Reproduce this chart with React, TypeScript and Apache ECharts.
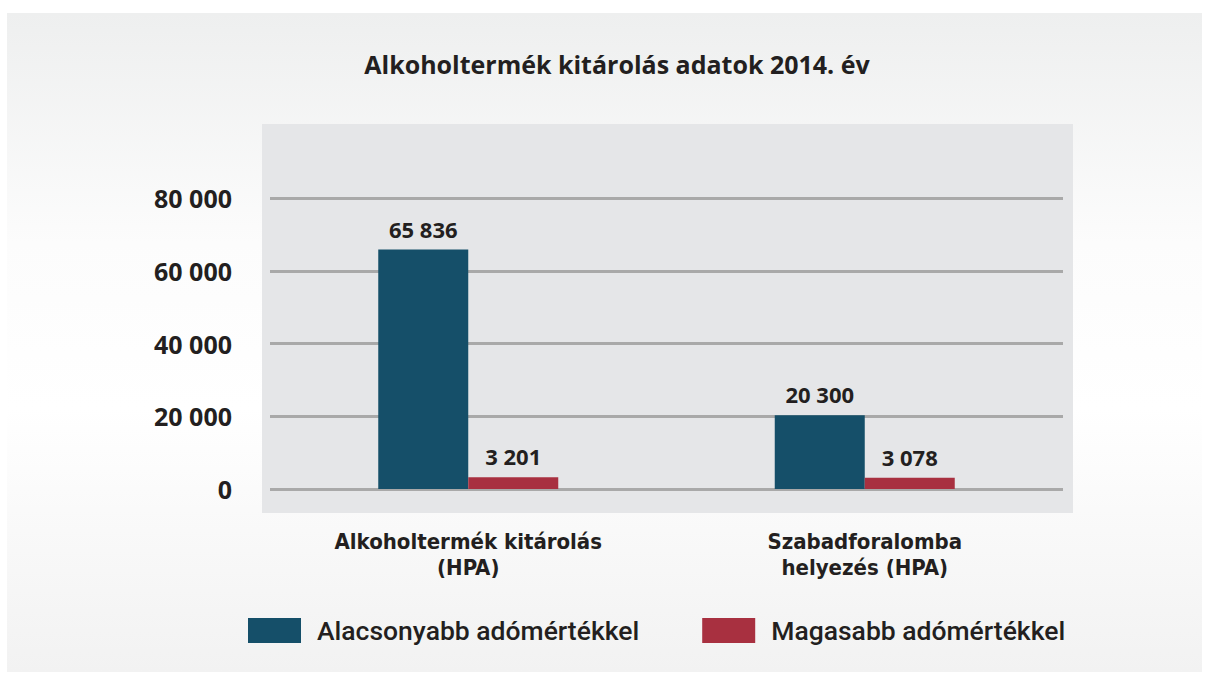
import React, { useEffect, useRef } from "react";
import * as echarts from "echarts";

const titleText = "Alkoholtermék kitárolás adatok 2014. év";
const categories = ["Alkoholtermék kitárolás\n(HPA)", "Szabadforalomba\nhelyezés (HPA)"];
const lowerRate = [65836, 20300];
const higherRate = [3201, 3078];
const seriesNames = ["Alacsonyabb adómértékkel", "Magasabb adómértékkel"];
const yTicks = [0, 20000, 40000, 60000, 80000];

const fmt = (v: number) => String(v).replace(/\B(?=(\d{3})+(?!\d))/g, " ");

export default function App() {
  const ref = useRef<HTMLDivElement>(null);
  useEffect(() => {
    if (!ref.current) return;
    const chart = echarts.init(ref.current, null, { renderer: "svg" });
    const labelStyle = {
      show: true,
      position: "top" as const,
      distance: 10,
      fontFamily: "Open Sans",
      fontWeight: "bold" as const,
      fontSize: 22,
      color: "#231f20",
      formatter: (p: any) => fmt(p.value),
    };
    chart.setOption({
      animation: false,
      backgroundColor: "#ffffff",
      graphic: [
        {
          type: "rect",
          z: -10,
          silent: true,
          shape: { x: 7, y: 13, width: 1195, height: 659 },
          style: {
            fill: new echarts.graphic.LinearGradient(0, 0, 0, 1, [
              { offset: 0, color: "#eeefef" },
              { offset: 0.35, color: "#fcfcfc" },
              { offset: 0.6, color: "#ffffff" },
              { offset: 1, color: "#f2f2f2" },
            ]),
          },
        },
        {
          type: "rect",
          z: -9,
          silent: true,
          shape: { x: 262, y: 124, width: 811, height: 389 },
          style: { fill: "#e5e6e8" },
        },
      ],
      title: {
        text: titleText,
        left: 612,
        textAlign: "center",
        top: 46,
        textStyle: {
          fontFamily: "Open Sans",
          fontWeight: "bold",
          fontSize: 25,
          color: "#231f20",
        },
      },
      legend: {
        left: 248,
        top: 617,
        padding: 0,
        itemWidth: 53,
        itemHeight: 25,
        itemGap: 63,
        icon: "rect",
        data: seriesNames,
        textStyle: {
          fontFamily: "Roboto",
          fontWeight: 500,
          fontSize: 26.5,
          color: "#231f20",
          padding: [0, 0, 0, 11],
        },
      },
      grid: { left: 270, right: 146, top: 198, bottom: 188 },
      xAxis: {
        type: "category",
        data: categories,
        axisLine: { show: false },
        axisTick: { show: false },
        axisLabel: {
          margin: 39,
          fontFamily: "'DejaVu Sans Condensed', 'DejaVu Sans'",
          fontWeight: "bold",
          fontSize: 22,
          lineHeight: 26,
          color: "#231f20",
        },
      },
      yAxis: {
        type: "value",
        min: yTicks[0],
        max: yTicks[yTicks.length - 1],
        interval: 20000,
        axisLine: { show: false },
        axisTick: { show: false },
        splitLine: { lineStyle: { color: "#a9a9a9", width: 3 } },
        axisLabel: {
          margin: 38,
          fontFamily: "Open Sans",
          fontWeight: "bold",
          fontSize: 25,
          color: "#231f20",
          formatter: (v: number) => fmt(v),
        },
      },
      series: [
        {
          name: seriesNames[0],
          type: "bar",
          data: lowerRate,
          barWidth: 90,
          barGap: "0%",
          itemStyle: { color: "#154f69" },
          label: labelStyle,
        },
        {
          name: seriesNames[1],
          type: "bar",
          data: higherRate,
          barWidth: 90,
          barGap: "0%",
          itemStyle: { color: "#a83040" },
          label: labelStyle,
        },
      ],
    });
    return () => chart.dispose();
  }, []);
  return (
    <div
      ref={ref}
      style={{ position: "absolute", left: 0, top: 0, width: 1209, height: 677 }}
    />
  );
}
